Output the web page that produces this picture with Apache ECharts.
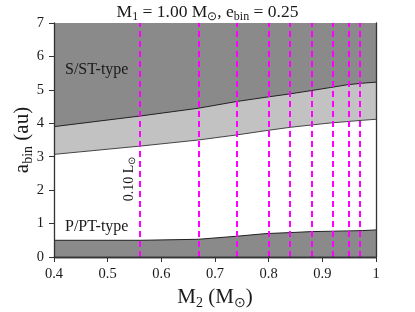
<!DOCTYPE html>
<html><head><meta charset="utf-8">
<script src="https://cdn.jsdelivr.net/npm/echarts@6/dist/echarts.min.js"></script>
<style>html,body{margin:0;padding:0;background:#fff}#c{width:415px;height:312px}</style>
</head><body><div id="c"></div>
<script>
// Secondary-star masses where the boundaries were sampled (M_sun)
var m2 = [0.40, 0.5617, 0.6687, 0.7396, 0.795, 0.840, 0.880, 0.915, 0.9455, 0.9746, 1.00];
// Outer edge of S/ST-type unstable region (au)
var sUpper = [3.90, 4.22, 4.45, 4.65, 4.78, 4.88, 4.98, 5.07, 5.15, 5.20, 5.23];
// Lower edge of light gray band (au)
var sLower = [3.07, 3.32, 3.50, 3.65, 3.78, 3.88, 3.95, 4.01, 4.05, 4.09, 4.12];
// P/PT-type boundary (au)
var pBound = [0.50, 0.50, 0.53, 0.62, 0.70, 0.73, 0.76, 0.77, 0.78, 0.79, 0.81];
// Masses for luminosity contours (dashed magenta)
var lumMass = [0.5617, 0.6687, 0.7396, 0.795, 0.840, 0.880, 0.915, 0.9455, 0.9746];
var xTicks = [0.4, 0.5, 0.6, 0.7, 0.8, 0.9, 1.0];
var yTicks = [0, 1, 2, 3, 4, 5, 6, 7];

var FONT = 'Liberation Serif';
var DARK = '#8a8a8a', LIGHT = '#c2c2c2', TXT = '#1a1a1a';
function pairs(ys){ return m2.map(function(x,i){ return [x, ys[i]]; }); }

var chart = echarts.init(document.getElementById('c'));
var richMain = {
  a: {fontFamily: FONT, fontSize: 21, fontWeight: 'normal', color: TXT, lineHeight: 26, verticalAlign: 'middle'},
  s: {fontFamily: FONT, fontSize: 14, fontWeight: 'normal', color: TXT, lineHeight: 11, verticalAlign: 'bottom'}
};
chart.setOption({
  animation: false,
  title: {
    text: '{a|M}{s|1}{a| = 1.00 M}{s|⊙}{a|, e}{s|bin}{a| = 0.25}',
    left: 'center', top: -4,
    textStyle: {fontWeight: 'normal', rich: {
      a: {fontFamily: FONT, fontSize: 17.5, fontWeight: 'normal', color: TXT, lineHeight: 22, verticalAlign: 'middle'},
      s: {fontFamily: FONT, fontSize: 12, fontWeight: 'normal', color: TXT, lineHeight: 9, verticalAlign: 'bottom'}
    }}
  },
  grid: {left: 54, right: 39, top: 23, bottom: 55, show: true, backgroundColor: DARK, borderWidth: 0,
         containLabel: false, outerBoundsMode: 'none'},
  xAxis: [{
    type: 'value', min: 0.4, max: 1.0, interval: 0.1, z: 10,
    name: '{a|M}{s|2}{a| (M}{s|⊙}{a|)}', nameLocation: 'middle', nameGap: 27, nameMoveOverlap: false,
    nameTextStyle: {rich: richMain},
    axisLine: {show: true, onZero: false, lineStyle: {color: '#333', width: 1.3}},
    axisTick: {show: true, length: 5, lineStyle: {color: '#333'}},
    axisLabel: {fontFamily: FONT, fontSize: 14.5, color: TXT, margin: 10,
      formatter: function(v){ return Math.abs(v-1) < 1e-9 ? '1' : v.toFixed(1); }},
    splitLine: {show: false}
  }, {
    type: 'value', position: 'top', min: 0.4, max: 1.0, z: 10,
    axisLine: {show: true, lineStyle: {color: '#333', width: 1.3}},
    axisTick: {show: false}, axisLabel: {show: false}, splitLine: {show: false}
  }],
  yAxis: [{
    type: 'value', min: 0, max: 7, interval: 1, z: 10,
    name: '{a|a}{s|bin}{a| (au)}', nameLocation: 'middle', nameGap: 19, nameRotate: 90, nameMoveOverlap: false,
    nameTextStyle: {rich: richMain},
    axisLine: {show: true, onZero: false, lineStyle: {color: '#333', width: 1.3}},
    axisTick: {show: true, length: 5, lineStyle: {color: '#333'}},
    axisLabel: {fontFamily: FONT, fontSize: 14.5, color: TXT, margin: 10},
    splitLine: {show: false}
  }, {
    type: 'value', position: 'right', min: 0, max: 7, z: 10,
    axisLine: {show: true, lineStyle: {color: '#333', width: 1.3}},
    axisTick: {show: false}, axisLabel: {show: false}, splitLine: {show: false}
  }],
  series: [
    {type: 'line', data: pairs(sUpper), symbol: 'none', z: 2,
     lineStyle: {color: '#222', width: 1}, areaStyle: {color: LIGHT, opacity: 1}},
    {type: 'line', data: pairs(sLower), symbol: 'none', z: 3,
     lineStyle: {color: '#444', width: 1}, areaStyle: {color: '#ffffff', opacity: 1}},
    {type: 'line', data: pairs(pBound), symbol: 'none', z: 4,
     lineStyle: {color: '#222', width: 1}, areaStyle: {color: DARK, opacity: 1},
     markLine: {silent: true, symbol: 'none', label: {show: false}, z: 6,
       lineStyle: {color: '#ff00ff', width: 2, type: [6, 4]},
       data: lumMass.map(function(m){ return {xAxis: m}; })}}
  ],
  graphic: [
    {type: 'text', left: 65, top: 62, z: 20,
     style: {text: 'S/ST-type', font: '16px "Liberation Serif"', fill: TXT}},
    {type: 'text', left: 65, top: 219, z: 20,
     style: {text: 'P/PT-type', font: '16px "Liberation Serif"', fill: TXT}},
    {type: 'text', x: 129, y: 179, rotation: Math.PI/2, z: 20,
     style: {text: '{a|0.10 L}{s|⊙}', align: 'center', verticalAlign: 'middle',
       rich: {a: {fontFamily: FONT, fontSize: 14, fill: TXT, lineHeight: 16, verticalAlign: 'middle'},
              s: {fontFamily: FONT, fontSize: 10, fill: TXT, lineHeight: 7, verticalAlign: 'bottom'}}}}
  ]
});
</script></body></html>
